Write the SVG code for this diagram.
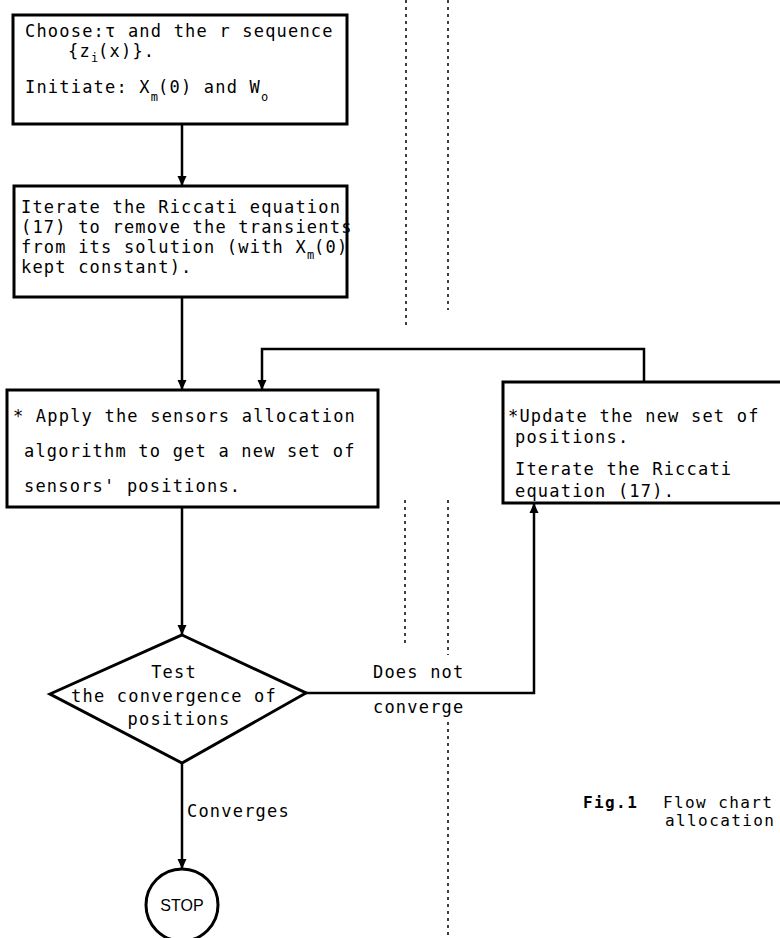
<svg xmlns="http://www.w3.org/2000/svg" width="780" height="938" viewBox="0 0 780 938">
<style>
.box{fill:#fff;stroke:#000;stroke-width:3}
.ln{fill:none;stroke:#000;stroke-width:2.5}
.t{font-family:"DejaVu Sans Mono","Liberation Mono",monospace;font-size:17px;letter-spacing:1.2px;fill:#000}
.sub{font-size:12px;letter-spacing:0}
.cap{font-family:"DejaVu Sans Mono","Liberation Mono",monospace;font-size:16px;letter-spacing:1.4px;fill:#000}
.art{fill:none;stroke:#000;stroke-width:1.5;stroke-dasharray:3 4}
</style>
<defs>
<marker id="ah" markerUnits="userSpaceOnUse" markerWidth="10" markerHeight="10" refX="10" refY="5" orient="auto">
<path d="M0,0.5 L10,5 L0,9.5 z" fill="#000"/>
</marker>
</defs>
<rect width="780" height="938" fill="#fff"/>
<g id="artifacts">
<line class="art" x1="406" y1="0" x2="406" y2="325"/>
<line class="art" x1="448" y1="0" x2="448" y2="310"/>
<line class="art" x1="405" y1="500" x2="405" y2="645"/>
<line class="art" x1="448" y1="500" x2="448" y2="655"/>
<line class="art" x1="448" y1="722" x2="448" y2="938"/>
</g>
<g id="connectors">
<path class="ln" d="M182,124 L182,186" marker-end="url(#ah)"/>
<path class="ln" d="M182,297 L182,390" marker-end="url(#ah)"/>
<path class="ln" d="M182,507 L182,635" marker-end="url(#ah)"/>
<path class="ln" d="M182,763 L182,869" marker-end="url(#ah)"/>
<path class="ln" d="M306,693 L534,693 L534,503" marker-end="url(#ah)"/>
<path class="ln" d="M644,382 L644,349 L262,349 L262,390" marker-end="url(#ah)"/>
<text class="t" x="373" y="678">Does not</text>
<text class="t" x="373" y="713">converge</text>
<text class="t" x="187" y="817">Converges</text>
</g>
<g id="start">
<rect class="box" x="13" y="15" width="334" height="109"/>
<text class="t" x="25" y="37">Choose:τ and the r sequence</text>
<text class="t" x="68" y="57">{z<tspan class="sub" dy="5">i</tspan><tspan dy="-5">(x)}.</tspan></text>
<text class="t" x="25" y="93">Initiate: X<tspan class="sub" dy="8">m</tspan><tspan dy="-8">(0) and W</tspan><tspan class="sub" dy="8">o</tspan></text>
</g>
<g id="riccati">
<rect class="box" x="14" y="186" width="333" height="111"/>
<text class="t" x="21" y="213">Iterate the Riccati equation</text>
<text class="t" x="21" y="233">(17) to remove the transients</text>
<text class="t" x="21" y="253">from its solution (with X<tspan class="sub" dy="6">m</tspan><tspan dy="-6">(0)</tspan></text>
<text class="t" x="21" y="273">kept constant).</text>
</g>
<g id="apply">
<rect class="box" x="7" y="390" width="371" height="117"/>
<text class="t" x="13" y="422">* Apply the sensors allocation</text>
<text class="t" x="24" y="457">algorithm to get a new set of</text>
<text class="t" x="24" y="492">sensors' positions.</text>
</g>
<g id="update">
<rect class="box" x="503" y="382" width="300" height="121"/>
<text class="t" x="508" y="422">*Update the new set of</text>
<text class="t" x="515" y="443">positions.</text>
<text class="t" x="515" y="475">Iterate the Riccati</text>
<text class="t" x="515" y="497">equation (17).</text>
</g>
<g id="test">
<path class="box" d="M182,635 L306,693 L182,763 L50,694 z"/>
<text class="t" x="174" y="678" text-anchor="middle">Test</text>
<text class="t" x="174" y="702" text-anchor="middle">the convergence of</text>
<text class="t" x="179" y="725" text-anchor="middle">positions</text>
</g>
<g id="stop">
<circle class="box" cx="182" cy="905" r="36"/>
<text x="182" y="911" text-anchor="middle" font-family="Liberation Sans, Arial, sans-serif" font-size="16" fill="#000">STOP</text>
</g>
<g id="caption">
<text class="cap" x="583" y="808" font-weight="bold">Fig.1</text>
<text class="cap" x="663" y="808">Flow chart</text>
<text class="cap" x="665" y="826">allocation</text>
</g>
</svg>
